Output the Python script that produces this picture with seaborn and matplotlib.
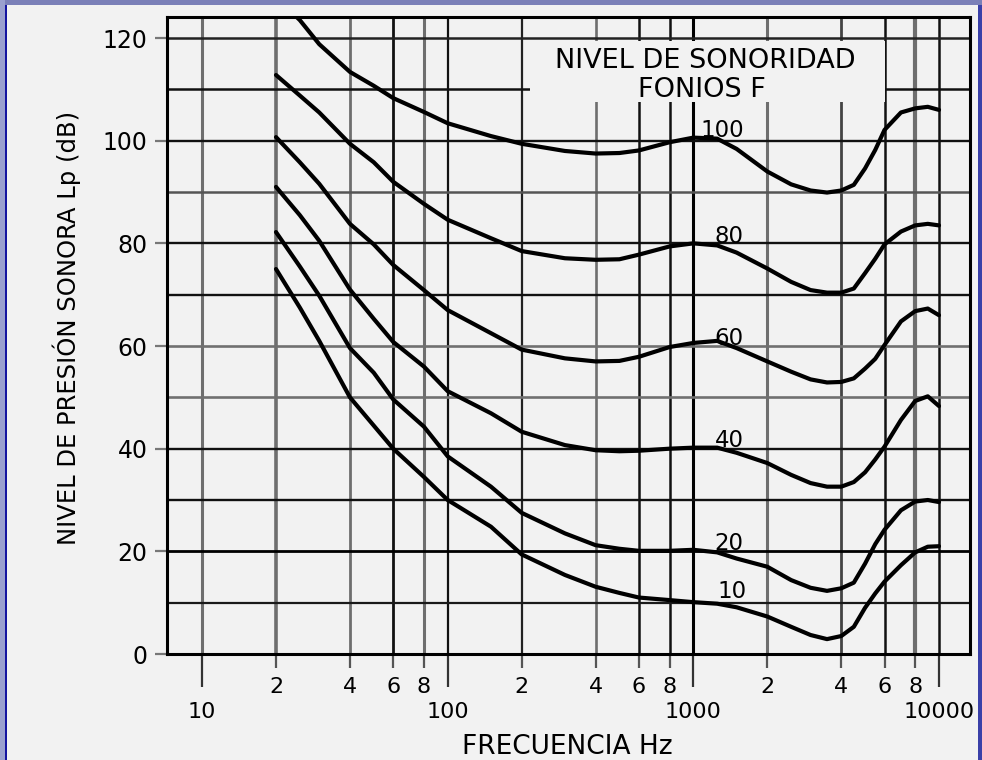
import matplotlib
matplotlib.use("Agg")
import matplotlib.pyplot as plt
import numpy as np
import pandas as pd
import seaborn as sns
from matplotlib.ticker import FixedLocator, FixedFormatter
from matplotlib.patches import Rectangle

# ---------------- data ----------------
freqs = [20, 25, 30, 40, 50, 60, 80, 100, 150, 200, 300, 400, 500, 600, 800,
         1000, 1250, 1500, 2000, 2500, 3000, 3500, 4000, 4500, 5000, 5500,
         6000, 7000, 8000, 9000, 10000]

phon_100 = [128.0, 123.5, 118.8, 113.4, 110.7, 108.3, 105.6, 103.4, 100.9, 99.4,
            98.0, 97.5, 97.6, 98.1, 99.7, 100.6, 100.4, 98.4, 94.0, 91.5, 90.3,
            89.9, 90.3, 91.4, 94.6, 98.2, 102.1, 105.5, 106.3, 106.6, 106.0]
phon_80 = [112.8, 108.8, 105.5, 99.4, 95.8, 92.0, 87.7, 84.6, 81.0, 78.5,
           77.1, 76.8, 76.9, 77.8, 79.4, 80.0, 79.6, 78.2, 75.1, 72.5, 70.9,
           70.4, 70.4, 71.2, 74.2, 77.0, 79.8, 82.3, 83.5, 83.8, 83.5]
phon_60 = [100.7, 95.8, 91.6, 83.8, 79.8, 75.8, 70.9, 67.0, 62.5, 59.3,
           57.6, 57.0, 57.1, 57.9, 59.8, 60.6, 61.0, 59.6, 57.0, 55.0, 53.5,
           52.9, 53.0, 53.7, 55.6, 57.5, 60.2, 64.8, 66.8, 67.3, 66.0]
phon_40 = [91.0, 85.5, 80.5, 71.0, 65.3, 60.8, 56.0, 51.2, 46.9, 43.3,
           40.7, 39.7, 39.5, 39.6, 40.0, 40.2, 40.2, 39.2, 37.2, 34.9, 33.3,
           32.6, 32.6, 33.5, 35.4, 37.9, 40.4, 45.6, 49.3, 50.2, 48.3]
phon_20 = [82.2, 75.5, 69.8, 59.6, 54.8, 49.6, 44.3, 38.5, 32.6, 27.5,
           23.5, 21.2, 20.5, 20.1, 20.1, 20.3, 19.8, 18.6, 17.0, 14.4, 12.9,
           12.3, 12.8, 13.9, 17.6, 21.4, 24.2, 28.0, 29.7, 30.0, 29.6]
phon_10 = [75.0, 67.5, 61.0, 50.0, 44.5, 40.0, 34.5, 30.0, 24.8, 19.4,
           15.4, 13.1, 11.9, 11.0, 10.5, 10.1, 9.8, 9.1, 7.3, 5.3, 3.7,
           2.9, 3.5, 5.3, 9.0, 11.8, 14.1, 17.3, 19.8, 20.9, 21.0]

phon_levels = [100, 80, 60, 40, 20, 10]
curve_values = [phon_100, phon_80, phon_60, phon_40, phon_20, phon_10]
curve_labels = ["100", "80", "60", "40", "20", "10"]
curve_label_freq = [1310, 1400, 1400, 1400, 1400, 1430]
curve_label_db = [100.8, 80.0, 60.2, 40.4, 20.3, 10.9]

x_major_ticks = [10, 100, 1000, 10000]
x_major_labels = ["10", "100", "1000", "10000"]
x_minor_ticks = [20, 40, 60, 80, 200, 400, 600, 800, 2000, 4000, 6000, 8000]
x_minor_labels = ["2", "4", "6", "8", "2", "4", "6", "8", "2", "4", "6", "8"]
y_ticks = [0, 20, 40, 60, 80, 100, 120]
y_tick_labels = ["0", "20", "40", "60", "80", "100", "120"]

vgrid_freqs = [10, 20, 40, 60, 80, 100, 200, 400, 600, 800, 1000, 2000, 4000, 6000, 8000, 10000]
vgrid_colors = ["#6e6e6e", "#6e6e6e", "#6e6e6e", "#111111", "#6e6e6e", "#111111",
                "#222222", "#6e6e6e", "#111111", "#111111", "#000000", "#6e6e6e",
                "#444444", "#111111", "#6e6e6e", "#111111"]
vgrid_widths = [2.2, 2.6, 2.0, 2.0, 2.2, 1.6, 1.6, 1.9, 1.8, 1.8, 2.2, 2.2, 2.0, 1.8, 3.0, 1.8]

hgrid_db = [10, 20, 30, 40, 50, 60, 70, 80, 90, 100, 110, 120]
hgrid_colors = ["#1a1a1a", "#000000", "#111111", "#111111", "#707070", "#707070",
                "#111111", "#111111", "#555555", "#111111", "#111111", "#222222"]
hgrid_widths = [1.6, 2.0, 1.7, 1.7, 1.9, 1.9, 1.7, 1.7, 1.8, 1.7, 1.8, 1.8]

title_lines = ["NIVEL DE SONORIDAD", "FONIOS F"]
title_freq = [1114, 1084]
title_db = [114.1, 108.6]

# ---------------- style ----------------
BG = "#f2f2f2"
sns.set_style("white", rc={"axes.facecolor": BG, "figure.facecolor": BG})
plt.rcParams["font.family"] = ["DejaVu Sans"]
plt.rcParams["text.color"] = "black"
plt.rcParams["axes.labelcolor"] = "black"
plt.rcParams["xtick.color"] = "black"
plt.rcParams["ytick.color"] = "black"
plt.rcParams["xtick.labelcolor"] = "black"
plt.rcParams["ytick.labelcolor"] = "black"

fig = plt.figure(figsize=(9.82, 7.60), dpi=100)
ax = fig.add_axes([167 / 982, 1 - 654 / 760, (970 - 167) / 982, (654 - 17) / 760])
ax.set_facecolor(BG)
ax.set_xscale("log")

# grid lines
for f, c, w in zip(vgrid_freqs, vgrid_colors, vgrid_widths):
    ax.axvline(f, color=c, lw=w, zorder=1)
for d, c, w in zip(hgrid_db, hgrid_colors, hgrid_widths):
    ax.axhline(d, color=c, lw=w, zorder=1)

# background box behind the legend title
ax.add_patch(Rectangle((216, 107.6), 6026 - 216, 119.5 - 107.6,
                       facecolor=BG, edgecolor="none", zorder=1.5))

# curves
df = pd.DataFrame({
    "freq": np.tile(freqs, len(phon_levels)),
    "db": np.concatenate(curve_values),
    "phon": np.repeat(phon_levels, len(freqs)),
})
sns.lineplot(data=df, x="freq", y="db", units="phon", estimator=None,
             color="black", linewidth=3.0, legend=False, ax=ax, zorder=3,
             solid_joinstyle="round", sort=False)

for txt, f, d in zip(curve_labels, curve_label_freq, curve_label_db):
    ax.text(f, d, txt, ha="center", va="baseline", fontsize=16.5, color="black", zorder=4)

for txt, f, d in zip(title_lines, title_freq, title_db):
    ax.text(f, d, txt, ha="center", va="baseline", fontsize=19.5, color="black", zorder=4)

# axes limits
ax.set_xlim(7.2, 13370)
ax.set_ylim(0, 124.1)

# ticks
ax.xaxis.set_major_locator(FixedLocator(x_major_ticks))
ax.xaxis.set_major_formatter(FixedFormatter(x_major_labels))
ax.xaxis.set_minor_locator(FixedLocator(x_minor_ticks))
ax.xaxis.set_minor_formatter(FixedFormatter(x_minor_labels))
ax.tick_params(axis="x", which="major", direction="out", length=24, width=1.6,
               color="#333333", pad=10.5, labelsize=16, bottom=True)
ax.tick_params(axis="x", which="minor", direction="out", length=10, width=1.6,
               color="#555555", pad=6.3, labelsize=16, bottom=True)
ax.set_yticks(y_ticks)
ax.set_yticklabels(y_tick_labels)
ax.tick_params(axis="y", which="major", direction="out", length=8.6, width=1.6,
               color="#777777", pad=5.5, labelsize=17, left=True)
ax.tick_params(axis="y", which="minor", left=False)

for s in ax.spines.values():
    s.set_color("black")
    s.set_linewidth(2.2)
    s.set_zorder(5)

ax.set_xlabel("FRECUENCIA Hz", fontsize=19, color="black")
ax.xaxis.set_label_coords((567 - 167) / 803, (654 - 747) / 637)
ax.xaxis.label.set_va("center")
ax.set_ylabel("NIVEL DE PRESIÓN SONORA Lp (dB)", fontsize=17.5, color="black")
ax.yaxis.set_label_coords((67 - 167) / 803, (654 - 328) / 637)
ax.yaxis.label.set_va("center")

# window frame decoration
fig.patches.append(Rectangle((0, 1 - 5 / 760), 1, 5 / 760, transform=fig.transFigure,
                             facecolor="#7b80b8", edgecolor="none", zorder=0))
fig.patches.append(Rectangle((0, 0), 5 / 982, 1, transform=fig.transFigure,
                             facecolor="#9aa0cf", edgecolor="none", zorder=0))
fig.patches.append(Rectangle((5 / 982, 0), 2 / 982, 1 - 5 / 760, transform=fig.transFigure,
                             facecolor="#1414a0", edgecolor="none", zorder=0))
fig.patches.append(Rectangle((978 / 982, 0), 4 / 982, 1 - 5 / 760, transform=fig.transFigure,
                             facecolor="#3a40a8", edgecolor="none", zorder=0))

fig.savefig("out.png", dpi=100, facecolor=BG)
